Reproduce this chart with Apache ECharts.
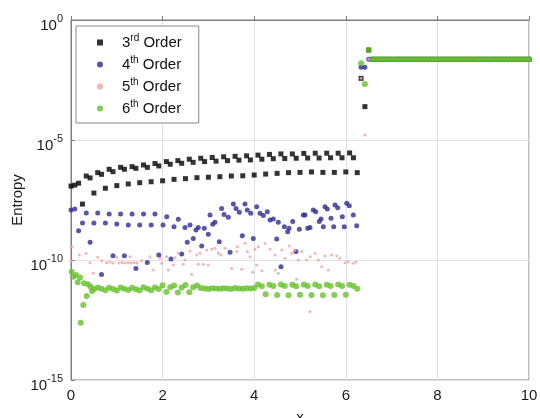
<!DOCTYPE html>
<html>
<head>
<meta charset="utf-8">
<script src="https://cdn.jsdelivr.net/npm/echarts@6/dist/echarts.min.js"></script>
<style>html,body{margin:0;padding:0;background:#fff}#c{width:540px;height:418px}</style>
</head>
<body>
<div id="c"></div>
<script>
const seriesNames = ['3rd Order', '4th Order', '5th Order', '6th Order'];
const xTicks = [0, 2, 4, 6, 8, 10];
const yTickExponents = [-15, -10, -5, 0];

const order3 = [
  [0,-6.92],[0.083,-6.88],[0.167,-6.80],[0.25,-7.67],[0.333,-6.50],[0.417,-6.58],[0.5,-7.21],
  [0.583,-6.36],[0.667,-6.43],[0.75,-7.01],[0.833,-6.22],[0.917,-6.32],[1.0,-6.90],[1.083,-6.14],
  [1.167,-6.22],[1.25,-6.83],[1.333,-6.11],[1.417,-6.18],[1.5,-6.78],[1.583,-6.04],[1.667,-6.14],
  [1.75,-6.74],[1.833,-5.98],[1.917,-6.08],[2.0,-6.70],[2.083,-5.90],[2.167,-6.01],[2.25,-6.64],
  [2.333,-5.86],[2.417,-5.97],[2.5,-6.61],[2.583,-5.80],[2.667,-5.93],[2.75,-6.57],[2.833,-5.76],
  [2.917,-5.90],[3.0,-6.55],[3.083,-5.73],[3.167,-5.88],[3.25,-6.53],[3.333,-5.70],[3.417,-5.86],
  [3.5,-6.50],[3.583,-5.68],[3.667,-5.84],[3.75,-6.49],[3.833,-5.66],[3.917,-5.83],[4.0,-6.46],
  [4.083,-5.63],[4.167,-5.80],[4.25,-6.42],[4.333,-5.60],[4.417,-5.78],[4.5,-6.39],[4.583,-5.58],
  [4.667,-5.77],[4.75,-6.36],[4.833,-5.58],[4.917,-5.76],[5.0,-6.35],[5.083,-5.56],[5.167,-5.75],
  [5.25,-6.33],[5.333,-5.55],[5.417,-5.75],[5.5,-6.35],[5.583,-5.55],[5.667,-5.74],[5.75,-6.35],
  [5.833,-5.55],[5.917,-5.74],[6.0,-6.33],[6.083,-5.54],[6.167,-5.74],[6.25,-6.36],
  [6.333,-2.43],[6.417,-3.61],[6.5,-1.25]
];

const order4 = [
  [0,-7.92],[0.083,-7.88],[0.166,-8.78],[0.251,-8.46],[0.334,-8.04],[0.417,-9.26],[0.5,-8.46],
  [0.583,-8.04],[0.666,-10.60],[0.751,-8.46],[0.834,-8.08],[0.917,-9.82],[1.0,-8.50],[1.083,-8.08],
  [1.166,-9.82],[1.25,-8.54],[1.334,-8.08],[1.417,-10.35],[1.5,-8.54],[1.583,-8.08],[1.666,-10.10],
  [1.751,-8.54],[1.834,-8.08],[1.917,-9.79],[2.009,-8.54],[2.09,-8.20],[2.183,-9.96],[2.249,-8.61],
  [2.343,-8.30],[2.417,-9.75],[2.489,-8.65],[2.539,-9.26],[2.598,-8.54],[2.67,-9.10],[2.729,-8.75],
  [2.779,-8.65],[2.854,-9.42],[2.91,-8.68],[2.998,-8.93],[3.035,-8.13],[3.094,-8.51],[3.144,-8.43],
  [3.238,-9.24],[3.29,-7.85],[3.341,-8.10],[3.434,-8.22],[3.472,-9.68],[3.544,-7.67],[3.603,-7.85],
  [3.675,-8.01],[3.74,-8.99],[3.799,-7.67],[3.849,-7.92],[3.924,-8.05],[3.98,-9.10],[4.055,-7.78],
  [4.127,-8.05],[4.199,-8.15],[4.286,-7.99],[4.345,-8.33],[4.417,-8.29],[4.491,-9.13],[4.526,-8.43],
  [4.585,-10.28],[4.657,-8.61],[4.731,-8.82],[4.76,-8.68],[4.841,-8.40],[4.913,-9.65],[4.985,-8.72],
  [5.072,-8.13],[5.109,-8.13],[5.168,-8.68],[5.218,-8.65],[5.29,-7.92],[5.343,-7.99],[5.421,-8.40],
  [5.459,-8.29],[5.509,-8.61],[5.546,-7.78],[5.596,-7.88],[5.677,-8.26],[5.736,-8.61],[5.764,-7.71],
  [5.823,-7.82],[5.924,-8.20],[5.967,-8.61],[6.02,-7.64],[6.076,-7.74],[6.164,-8.13],[6.238,-8.57],
  [6.333,-1.97],[6.417,-1.97],[6.5,-1.64]
];

const order5 = [
  [0,-10.03],[0.022,-9.45],[0.181,-9.79],[0.328,-9.72],[0.415,-10.11],[0.487,-10.55],[0.583,-9.89],
  [0.67,-10.03],[0.779,-10.11],[0.852,-10.08],[0.917,-10.13],[0.998,-9.90],[1.048,-10.13],
  [1.114,-10.10],[1.179,-10.13],[1.245,-10.11],[1.288,-9.86],[1.31,-10.13],[1.376,-10.10],
  [1.441,-10.13],[1.544,-10.03],[1.725,-9.86],[1.797,-10.42],[1.943,-9.93],[1.98,-10.14],
  [2.09,-9.86],[2.124,-10.42],[2.234,-10.21],[2.271,-9.90],[2.343,-9.72],[2.452,-10.18],[2.489,-10.0],
  [2.598,-9.63],[2.635,-10.60],[2.745,-9.79],[2.779,-10.18],[2.817,-9.72],[2.889,-10.18],[2.963,-9.58],
  [2.998,-10.21],[3.072,-9.55],[3.144,-9.51],[3.216,-9.72],[3.269,-9.79],[3.362,-9.51],[3.509,-10.35],
  [3.618,-9.65],[3.631,-9.45],[3.727,-10.39],[3.799,-9.30],[3.849,-9.65],[3.908,-9.86],[3.967,-10.51],
  [4.017,-9.55],[4.055,-10.21],[4.09,-9.45],[4.164,-10.45],[4.236,-9.30],[4.345,-9.55],[4.454,-9.79],
  [4.46,-10.42],[4.526,-10.55],[4.6,-9.58],[4.672,-9.93],[4.766,-9.42],[4.819,-9.72],[4.891,-9.58],
  [4.928,-10.80],[4.963,-10.0],[5.037,-9.65],[5.146,-10.0],[5.218,-12.15],[5.225,-9.86],[5.328,-9.72],
  [5.4,-10.0],[5.474,-10.28],[5.546,-9.83],[5.618,-10.42],[5.692,-9.79],[5.801,-9.83],[5.873,-9.93],
  [5.983,-10.11],[6.055,-10.07],[6.164,-10.14],[6.223,-10.08],
  [6.333,-2.43],[6.417,-4.79],[6.5,-1.64]
];

const order6 = [
  [0.015,-10.49],[0.05,-10.70],[0.109,-10.63],[0.146,-10.93],[0.197,-10.73],[0.212,-12.61],
  [0.269,-11.88],[0.284,-10.97],[0.343,-11.50],[0.371,-11.01],[0.43,-11.11],[0.459,-11.29],
  [0.502,-11.21],[0.583,-11.15],[0.667,-11.20],[0.75,-11.26],[0.833,-11.16],[0.917,-11.21],
  [1.0,-11.27],[1.083,-11.15],[1.167,-11.20],[1.25,-11.25],[1.333,-11.16],[1.417,-11.22],
  [1.5,-11.27],[1.583,-11.14],[1.667,-11.20],[1.75,-11.26],[1.833,-11.15],[1.917,-11.21],
  [2.0,-11.05],[2.083,-11.33],[2.167,-11.14],[2.25,-11.06],[2.333,-11.35],[2.417,-11.15],
  [2.5,-11.04],[2.583,-11.34],[2.667,-11.14],[2.75,-11.06],[2.833,-11.17],[2.917,-11.19],
  [3.0,-11.21],[3.083,-11.18],[3.167,-11.19],[3.25,-11.20],[3.333,-11.18],[3.417,-11.19],
  [3.5,-11.21],[3.583,-11.17],[3.667,-11.19],[3.75,-11.20],[3.833,-11.18],[3.917,-11.19],
  [4.0,-11.17],[4.083,-11.02],[4.167,-11.09],[4.25,-11.43],[4.333,-11.03],[4.417,-11.08],
  [4.5,-11.46],[4.583,-11.02],[4.667,-11.08],[4.75,-11.47],[4.833,-11.03],[4.917,-11.09],
  [5.0,-11.45],[5.083,-11.02],[5.167,-11.08],[5.25,-11.46],[5.333,-11.02],[5.417,-11.09],
  [5.5,-11.47],[5.583,-11.03],[5.667,-11.08],[5.75,-11.46],[5.833,-11.02],[5.917,-11.08],
  [6.0,-11.45],[6.083,-11.03],[6.167,-11.08],[6.25,-11.20],
  [6.333,-1.80],[6.417,-2.67],[6.5,-1.25]
];

// all four orders coincide for x > 6.5
const tailX = [6.583,6.667,6.75,6.833,6.917,7.0,7.083,7.167,7.25,7.333,7.417,7.5,7.583,7.667,
  7.75,7.833,7.917,8.0,8.083,8.167,8.25,8.333,8.417,8.5,8.583,8.667,8.75,8.833,8.917,9.0,
  9.083,9.167,9.25,9.333,9.417,9.5,9.583,9.667,9.75,9.833,9.917,10.0];
const tailLog = [-1.64,-1.64,-1.64,-1.64,-1.64,-1.64,-1.64,-1.64,-1.64,-1.64,-1.64,-1.64,-1.64,-1.64,
  -1.64,-1.64,-1.64,-1.64,-1.64,-1.64,-1.64,-1.64,-1.64,-1.64,-1.64,-1.64,-1.64,-1.64,-1.64,-1.64,
  -1.64,-1.64,-1.64,-1.64,-1.64,-1.64,-1.64,-1.64,-1.64,-1.64,-1.64,-1.64];

const FONT = 'Liberation Sans, Arial, Helvetica, sans-serif';
const tail = tailX.map((x, i) => [x, tailLog[i]]);
const seriesData = [order3, order4, order5, order6].map(d => d.concat(tail));
const styles = [
  { symbol: 'rect', size: 5, color: '#000000' },
  { symbol: 'circle', size: 5, color: '#2f2b92' },
  { symbol: 'circle', size: 3, color: '#f4a2a2' },
  { symbol: 'circle', size: 6, color: '#66c12b' }
];

const chart = echarts.init(document.getElementById('c'), null, { renderer: 'canvas' });
chart.setOption({
  animation: false,
  backgroundColor: '#ffffff',
  grid: { left: 71, right: 11, top: 20, bottom: 38, containLabel: false, outerBoundsMode: 'none',
          show: true, borderColor: '#7f7f7f', borderWidth: 1, backgroundColor: 'transparent' },
  xAxis: {
    type: 'value', min: xTicks[0], max: xTicks[xTicks.length - 1], interval: 2,
    name: 'x', nameLocation: 'middle', nameGap: 30, nameMoveOverlap: false,
    nameTextStyle: { fontSize: 15, color: '#1a1a1a', fontFamily: FONT },
    axisLine: { show: true, lineStyle: { color: '#7f7f7f' } },
    axisTick: { show: true, inside: true, length: 4, lineStyle: { color: '#7f7f7f' } },
    splitLine: { show: true, lineStyle: { color: '#e2e2e2' } },
    axisLabel: { fontSize: 15, color: '#1a1a1a', fontFamily: FONT, margin: 8 }
  },
  yAxis: {
    type: 'value', min: yTickExponents[0], max: yTickExponents[yTickExponents.length - 1], interval: 5,
    name: 'Entropy', nameLocation: 'middle', nameGap: 46, nameRotate: 90, nameMoveOverlap: false,
    nameTextStyle: { fontSize: 15, color: '#1a1a1a', fontFamily: FONT },
    axisLine: { show: true, lineStyle: { color: '#7f7f7f' } },
    axisTick: { show: true, inside: true, length: 4, lineStyle: { color: '#7f7f7f' } },
    splitLine: { show: true, lineStyle: { color: '#e2e2e2' } },
    axisLabel: {
      margin: 8, color: '#1a1a1a', fontFamily: FONT, padding: [6, 0, 0, 0],
      formatter: v => '{b|10}{s|' + v + '}',
      rich: {
        b: { fontSize: 15, fontFamily: FONT, color: '#1a1a1a', lineHeight: 14, verticalAlign: 'bottom' },
        s: { fontSize: 11, fontFamily: FONT, color: '#1a1a1a', lineHeight: 20, padding: [0, 0, 7, 0], verticalAlign: 'top' }
      }
    }
  },
  legend: {
    orient: 'vertical', left: 76, top: 26,
    padding: [7, 17, 7, 21], itemGap: 5, itemWidth: 6, itemHeight: 6,
    backgroundColor: '#ffffff', borderColor: '#8a8a8a', borderWidth: 1,
    data: seriesNames,
    formatter: n => n.replace(/^(\d)(rd|th)(.*)$/, '{g| }{m|$1}{sup|$2}{m|$3}'),
    textStyle: {
      fontFamily: FONT, fontSize: 15, color: '#111',
      rich: {
        g: { width: 14, fontSize: 15 },
        m: { fontSize: 15, fontFamily: FONT, color: '#111' },
        sup: { fontSize: 10, fontFamily: FONT, color: '#111', padding: [0, 0, 9, 0] }
      }
    }
  },
  series: seriesNames.map((name, i) => ({
    name, type: 'scatter', data: seriesData[i],
    symbol: styles[i].symbol, symbolSize: styles[i].size,
    itemStyle: { color: styles[i].color },
    z: 2 + i
  }))
});
</script>
</body>
</html>
